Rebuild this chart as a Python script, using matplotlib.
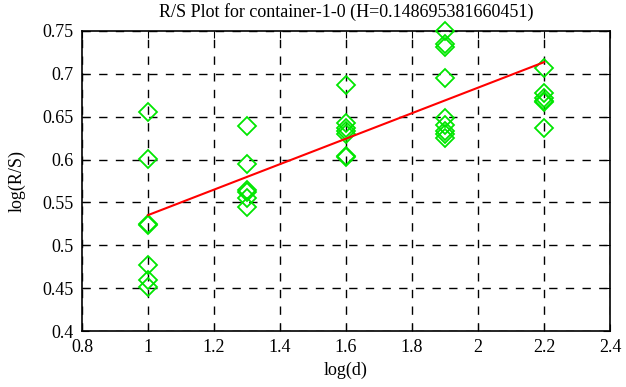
import matplotlib
matplotlib.use("Agg")
import matplotlib.pyplot as plt
import numpy as np

plt.rcParams['font.family'] = ['Liberation Serif', 'DejaVu Serif']

log_d = [1.0, 1.3, 1.6, 1.9, 2.2]
log_rs = [
    [0.656, 0.601, 0.525, 0.524, 0.477, 0.459, 0.451],
    [0.639, 0.595, 0.565, 0.562, 0.555, 0.545],
    [0.687, 0.643, 0.637, 0.633, 0.630, 0.604, 0.603],
    [0.750, 0.735, 0.731, 0.695, 0.648, 0.640, 0.633, 0.630, 0.625],
    [0.707, 0.678, 0.672, 0.668, 0.667, 0.637],
]
H = 0.148695381660451
intercept = 0.3865

fig = plt.figure(figsize=(6.26, 3.87), dpi=100)
ax = fig.add_axes([0.131, 0.1447, 0.8435, 0.7752])

xs, ys = [], []
for x, vals in zip(log_d, log_rs):
    for v in vals:
        xs.append(x)
        ys.append(v)
ax.plot(xs, ys, linestyle='none', marker='D', markersize=9.5,
        markerfacecolor='none', markeredgecolor='#00e600', markeredgewidth=1.3,
        clip_on=False, zorder=3)

xl = np.array([log_d[0], log_d[-1]])
ax.plot(xl, intercept + H * xl, color='#ff0000', linewidth=1.5, zorder=4)

ax.set_xlim(0.8, 2.4)
ax.set_ylim(0.4, 0.75)
ax.set_xticks([0.8, 1, 1.2, 1.4, 1.6, 1.8, 2, 2.2, 2.4])
ax.set_xticklabels(['0.8', '1', '1.2', '1.4', '1.6', '1.8', '2', '2.2', '2.4'])
ax.set_yticks([0.4, 0.45, 0.5, 0.55, 0.6, 0.65, 0.7, 0.75])
ax.set_yticklabels(['0.4', '0.45', '0.5', '0.55', '0.6', '0.65', '0.7', '0.75'])
ax.grid(True, color='black', linestyle=(0, (6, 6)), linewidth=1.0)
ax.tick_params(direction='in', top=True, right=True, length=5, labelsize=13, pad=6)
for s in ax.spines.values():
    s.set_linewidth(1.2)
ax.set_xlabel('log(d)', fontsize=13, labelpad=4)
ax.set_ylabel('log(R/S)', fontsize=13, labelpad=12)
ax.set_title('R/S Plot for container-1-0 (H=0.148695381660451)', fontsize=13, pad=10)

fig.savefig('out.png', dpi=100)
